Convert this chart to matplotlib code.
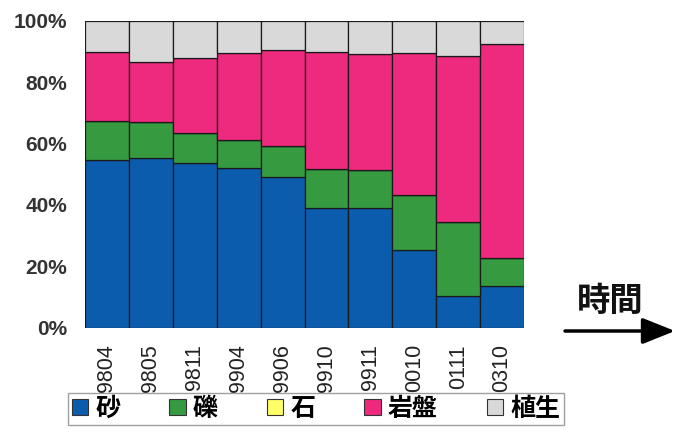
import matplotlib
matplotlib.use("Agg")
import matplotlib.pyplot as plt
import numpy as np
from matplotlib.patches import Patch
from matplotlib.font_manager import FontProperties

# Survey periods (yymm) and composition of the river bed (%)
periods = ["9804", "9805", "9811", "9904", "9906", "9910", "9911", "0010", "0111", "0310"]
sand       = [54.6, 55.2, 53.8, 51.9, 49.0, 38.9, 38.9, 25.3, 10.3, 13.5]
gravel     = [12.9, 11.7,  9.8,  9.3, 10.2, 12.7, 12.5, 17.9, 24.0,  9.1]
stone      = [ 0.0,  0.0,  0.0,  0.0,  0.0,  0.0,  0.0,  0.0,  0.0,  0.0]
bedrock    = [22.4, 19.6, 24.2, 28.5, 31.3, 38.4, 37.7, 46.3, 54.3, 69.9]
vegetation = [10.1, 13.5, 12.2, 10.3,  9.5, 10.0, 10.9, 10.5, 11.4,  7.5]

series_names = ["砂", "礫", "石", "岩盤", "植生"]
series_vals = [sand, gravel, stone, bedrock, vegetation]
series_colors = ["#0C5CAE", "#359A40", "#FFFF66", "#EE2A7E", "#D9D9D9"]
y_ticks = [0, 20, 40, 60, 80, 100]
y_labels = ["0%", "20%", "40%", "60%", "80%", "100%"]

W, H = 675, 432
fig = plt.figure(figsize=(W / 100, H / 100), dpi=100)
ax = fig.add_axes([85 / W, 1 - 327.5 / H, (524 - 85) / W, (327.5 - 21) / H])

x = np.arange(len(periods))
bottom = np.zeros(len(periods))
for vals, color in zip(series_vals, series_colors):
    vals = np.asarray(vals)
    ax.bar(x, vals, bottom=bottom, width=1.0, color=color,
           edgecolor="#1a1a1a", linewidth=0.9)
    bottom += vals

ax.set_xlim(-0.5, len(periods) - 0.5)
ax.set_ylim(0, 100)
for s in ax.spines.values():
    s.set_visible(False)

ax.set_yticks(y_ticks)
ax.set_yticklabels(y_labels, fontfamily="Liberation Sans", fontsize=15,
                   fontweight="bold", color="#333333")
ax.tick_params(axis="y", length=0, pad=13)

ax.set_xticks(x)
ax.set_xticklabels(periods, rotation=90, fontfamily="Liberation Sans",
                   fontsize=15.5, color="#222222")
ax.tick_params(axis="x", length=0, pad=12)

handles = [Patch(facecolor=c, edgecolor="#333333", linewidth=0.8) for c in series_colors]
leg = fig.legend(handles, series_names, ncol=5, loc="upper left",
                 bbox_to_anchor=(68 / W, 1 - 393 / H),
                 prop=FontProperties(family="Noto Sans CJK JP", size=18, weight="bold"),
                 frameon=True, fancybox=False, edgecolor="#888888",
                 handlelength=0.65, handleheight=0.65, handletextpad=0.3,
                 columnspacing=1.95, borderpad=0.15, borderaxespad=0)
leg.get_frame().set_linewidth(1.0)
leg.set_zorder(10)

fig.text(610 / W, 1 - 301 / H, "時間", fontfamily="Noto Sans CJK JP",
         fontsize=24, fontweight="bold", ha="center", va="center", color="#111111")

ax.annotate("", xy=(W, H - 331), xytext=(565, H - 331),
            xycoords="figure pixels", textcoords="figure pixels",
            arrowprops=dict(arrowstyle="-|>,head_length=0.5,head_width=0.2",
                            mutation_scale=40, lw=2.5, color="black",
                            shrinkA=0, shrinkB=0))

fig.savefig("out.png", dpi=100)
